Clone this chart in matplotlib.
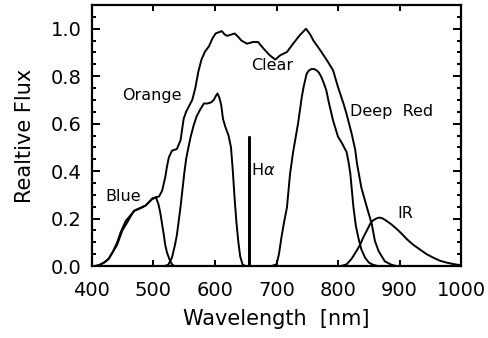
import matplotlib
matplotlib.use("Agg")
import matplotlib.pyplot as plt
from matplotlib.ticker import MultipleLocator

plt.rcParams['font.family'] = ['DejaVu Sans']
plt.rcParams['mathtext.fontset'] = 'dejavusans'

# Filter transmission curves (wavelength in nm, relative flux)
wl_blue = [405, 411, 420, 427, 434, 441, 449, 457, 463, 468, 476, 487, 493, 498,
           504, 508, 511, 514, 517, 519, 522, 526, 530, 534]
blue = [0.0, 0.003, 0.015, 0.03, 0.06, 0.09, 0.148, 0.183, 0.21, 0.232, 0.24,
        0.254, 0.27, 0.282, 0.289, 0.261, 0.225, 0.176, 0.127, 0.09, 0.056,
        0.028, 0.007, 0.0]

wl_clear = [405, 411, 420, 427, 434, 441, 447, 455, 463, 470, 476, 487, 493, 498,
            504, 509, 514, 519, 522, 525, 530, 538, 544, 549, 553, 558, 563, 568,
            573, 578, 584, 590, 596, 601, 606, 611, 616, 620, 626, 632, 638, 643,
            652, 662, 670, 679, 689, 698, 706, 717, 727, 738, 748, 755, 760, 771,
            782, 792, 800, 809, 814, 822, 828, 831, 838, 847, 855, 860, 866, 876,
            887, 895]
clear = [0.0, 0.003, 0.015, 0.03, 0.06, 0.1, 0.145, 0.19, 0.215, 0.235, 0.242,
         0.255, 0.27, 0.285, 0.29, 0.293, 0.317, 0.373, 0.42, 0.458, 0.486, 0.493,
         0.53, 0.62, 0.65, 0.675, 0.70, 0.75, 0.82, 0.87, 0.905, 0.925, 0.96,
         0.98, 0.985, 0.99, 0.975, 0.97, 0.975, 0.98, 0.965, 0.95, 0.937, 0.944,
         0.944, 0.916, 0.888, 0.87, 0.888, 0.902, 0.937, 0.973, 1.0, 0.975, 0.95,
         0.91, 0.867, 0.825, 0.754, 0.684, 0.64, 0.56, 0.49, 0.43, 0.33, 0.247,
         0.176, 0.106, 0.063, 0.02, 0.005, 0.0]

wl_orange = [518, 524, 530, 535, 538, 541, 544, 547, 550, 553, 556, 560, 565, 570,
             576, 582, 588, 594, 598, 601, 604, 607, 610, 613, 617, 622, 626, 629,
             632, 635, 638, 641, 645, 650]
orange = [0.0, 0.005, 0.035, 0.09, 0.13, 0.19, 0.25, 0.32, 0.39, 0.45, 0.49, 0.54,
          0.59, 0.63, 0.66, 0.685, 0.685, 0.69, 0.70, 0.715, 0.727, 0.71, 0.68,
          0.62, 0.585, 0.55, 0.50, 0.40, 0.28, 0.18, 0.10, 0.04, 0.005, 0.0]

wl_ha = [650, 655, 655, 657, 657, 662]
ha = [0.0, 0.0, 0.545, 0.545, 0.0, 0.0]

wl_deepred = [692, 700, 704, 708, 712, 717, 722, 727, 731, 735, 738, 741, 744, 749,
              753, 757, 761, 765, 769, 773, 777, 781, 785, 792, 800, 806, 810, 814,
              817, 820, 825, 829, 833, 838, 844, 850, 857, 865]
deepred = [0.0, 0.007, 0.05, 0.12, 0.18, 0.247, 0.388, 0.48, 0.54, 0.6, 0.655,
           0.71, 0.754, 0.81, 0.825, 0.83, 0.83, 0.825, 0.815, 0.796, 0.77, 0.74,
           0.69, 0.613, 0.545, 0.52, 0.5, 0.48, 0.44, 0.39, 0.25, 0.17, 0.12,
           0.07, 0.035, 0.015, 0.005, 0.0]

wl_ir = [805, 814, 822, 830, 836, 841, 847, 852, 856, 860, 864, 868, 873, 879, 887,
         896, 904, 912, 922, 933, 944, 955, 966, 977, 988, 1000]
ir = [0.0, 0.007, 0.03, 0.063, 0.09, 0.12, 0.15, 0.176, 0.19, 0.197, 0.202, 0.204,
      0.2, 0.19, 0.175, 0.155, 0.135, 0.113, 0.09, 0.07, 0.05, 0.035, 0.022,
      0.014, 0.008, 0.003]

# Curve labels: (text, wavelength, flux)
labels = [
    ("Blue", 450, 0.294),
    ("Orange", 498, 0.72),
    ("Clear", 693, 0.844),
    ("Deep  Red", 887, 0.653),
    (r"H$\alpha$", 679, 0.406),
    ("IR", 910, 0.222),
]

fig = plt.figure(figsize=(4.88, 3.38), dpi=100)
ax = fig.add_axes([92 / 488, 1 - 266 / 338, (461 - 92) / 488, (266 - 5) / 338])

lw = 1.4
for x, y in [(wl_blue, blue), (wl_clear, clear), (wl_orange, orange),
             (wl_ha, ha), (wl_deepred, deepred), (wl_ir, ir)]:
    ax.plot(x, y, color='black', lw=lw, solid_joinstyle='round')

for text, x, y in labels:
    ax.text(x, y, text, ha='center', va='center', fontsize=11.5, color='black')

ax.set_xlim(400, 1000)
ax.set_ylim(0, 1.1)
ax.xaxis.set_major_locator(MultipleLocator(100))
ax.yaxis.set_minor_locator(MultipleLocator(0.05))
ax.set_yticks([0.0, 0.2, 0.4, 0.6, 0.8, 1.0])
ax.set_yticklabels(["0.0", "0.2", "0.4", "0.6", "0.8", "1.0"])

ax.tick_params(axis='both', which='both', direction='in', top=True, right=True,
               labelsize=14, width=1.4)
ax.tick_params(axis='x', which='major', length=4.5, pad=11)
ax.tick_params(axis='y', which='major', length=5.5, pad=7.5)
ax.tick_params(axis='y', which='minor', length=3)
for s in ax.spines.values():
    s.set_linewidth(1.6)

ax.set_xlabel("Wavelength  [nm]", fontsize=15, labelpad=6)
ax.set_ylabel("Realtive Flux", fontsize=15, labelpad=11)

fig.savefig("out.png", dpi=100)
